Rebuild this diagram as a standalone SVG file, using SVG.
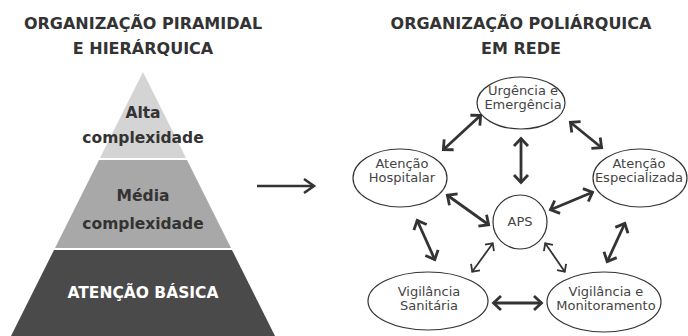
<svg xmlns="http://www.w3.org/2000/svg" width="688" height="336" viewBox="0 0 688 336">
<defs>
<style>
.t{font-family:"DejaVu Sans",Verdana,sans-serif;font-weight:bold;font-size:16px;fill:#333;text-anchor:middle}
.p{font-family:"DejaVu Sans",Verdana,sans-serif;font-weight:bold;font-size:15.5px;fill:#333;text-anchor:middle}
.n{font-family:"DejaVu Sans",Verdana,sans-serif;font-size:13px;fill:#444;text-anchor:middle}
.e{fill:#fff;stroke:#333;stroke-width:1.2}
.a{stroke:#333;stroke-width:2.8;fill:none;marker-start:url(#h);marker-end:url(#h)}
.b{stroke:#333;stroke-width:1.8;fill:none;marker-start:url(#h2);marker-end:url(#h2)}
</style>
<marker id="h" viewBox="-12 -10 14 20" refX="0" refY="0" markerWidth="14" markerHeight="20" orient="auto-start-reverse" markerUnits="userSpaceOnUse">
<path d="M-8,-7 L-0.5,0 L-8,7" fill="none" stroke="#333" stroke-width="2.8"/>
</marker>
<marker id="h2" viewBox="-12 -10 14 20" refX="0" refY="0" markerWidth="14" markerHeight="20" orient="auto-start-reverse" markerUnits="userSpaceOnUse">
<path d="M-6,-5.5 L-0.5,0 L-6,5.5" fill="none" stroke="#333" stroke-width="1.8"/>
</marker>
</defs>
<rect width="688" height="336" fill="#fff"/>
<g id="title-left">
<text class="t" x="143" y="29">ORGANIZAÇÃO PIRAMIDAL</text>
<text class="t" x="143" y="54">E HIERÁRQUICA</text>
</g>
<g id="title-right">
<text class="t" x="521" y="29">ORGANIZAÇÃO POLIÁRQUICA</text>
<text class="t" x="521" y="54">EM REDE</text>
</g>
<g id="pyramid">
<g id="alta">
<polygon points="143,72 186,158 100,158" fill="#d4d4d4"/>
<text class="p" x="143" y="118">Alta</text>
<text class="p" x="143" y="143">complexidade</text>
</g>
<g id="media">
<polygon points="99,160 187,160 231,248 55,248" fill="#a8a8a8"/>
<text class="p" x="143" y="201">Média</text>
<text class="p" x="143" y="229">complexidade</text>
</g>
<g id="basica">
<polygon points="54,250 232,250 275,336 11,336" fill="#4a4a4a"/>
<text class="p" x="143" y="298" style="fill:#fff">ATENÇÃO BÁSICA</text>
</g>
</g>
<g id="connectors">
<g id="main-arrow">
<line x1="257" y1="186" x2="313" y2="186" stroke="#333" stroke-width="2.6"/>
<path d="M304,179 L314,186 L304,193" fill="none" stroke="#333" stroke-width="2.6"/>
</g>
<line class="a" x1="481" y1="115" x2="443" y2="150"/>
<line class="a" x1="570" y1="122" x2="602" y2="148"/>
<line class="a" x1="521" y1="138" x2="521" y2="183"/>
<line class="a" x1="447" y1="195" x2="489" y2="225"/>
<line class="a" x1="550" y1="210" x2="593" y2="192"/>
<line class="a" x1="417" y1="220" x2="435" y2="260"/>
<line class="a" x1="625" y1="223" x2="607" y2="262"/>
<line class="b" x1="493" y1="243" x2="472" y2="272"/>
<line class="b" x1="545" y1="243" x2="565" y2="272"/>
<line class="a" x1="493" y1="303" x2="542" y2="303"/>
</g>
<g id="urgencia">
<ellipse class="e" cx="521" cy="103" rx="44" ry="26"/>
<text class="n" x="523" y="95">Urgência e</text>
<text class="n" x="523" y="109">Emergência</text>
</g>
<g id="hospitalar">
<ellipse class="e" cx="400" cy="178" rx="47" ry="29"/>
<text class="n" x="402" y="168">Atenção</text>
<text class="n" x="402" y="182">Hospitalar</text>
</g>
<g id="especializada">
<ellipse class="e" cx="640" cy="178" rx="47" ry="29"/>
<text class="n" x="639" y="168">Atenção</text>
<text class="n" x="639" y="182">Especializada</text>
</g>
<g id="aps">
<circle class="e" cx="520" cy="222" r="27"/>
<text class="n" x="520" y="226">APS</text>
</g>
<g id="vig-sanitaria">
<ellipse class="e" cx="428" cy="301" rx="60" ry="29"/>
<text class="n" x="429" y="296">Vigilância</text>
<text class="n" x="429" y="310">Sanitária</text>
</g>
<g id="vig-monitoramento">
<ellipse class="e" cx="604" cy="302" rx="57" ry="30"/>
<text class="n" x="606" y="296">Vigilância e</text>
<text class="n" x="606" y="310">Monitoramento</text>
</g>
</svg>
